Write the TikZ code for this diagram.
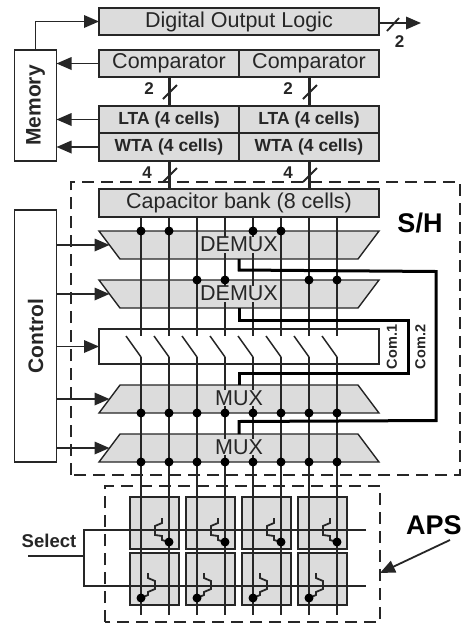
\documentclass[tikz,border=0pt]{standalone}
\usepackage{fontspec}
\setmainfont{Liberation Sans}
\usetikzlibrary{arrows.meta,calc}
\definecolor{ink}{HTML}{262626}
\definecolor{panel}{HTML}{DCDCDC}
\tikzset{
  x=1pt,y=-1pt,
  box/.style={draw=ink,line width=1.8pt,fill=panel,inner sep=0pt,outer sep=0pt,text=ink,font=\fontsize{21.5}{24}\selectfont},
  whitebox/.style={box,fill=white,font=\fontsize{21}{24}\selectfont\bfseries},
  cell/.style={box,minimum width=49pt,minimum height=52pt},
  bold/.style={box,font=\fontsize{17.5}{20}\selectfont\bfseries},
  hold/.style={inner sep=0pt,outer sep=0pt,minimum width=280pt,minimum height=28pt},
  trap/.style={draw=ink,line width=1.4pt,fill=panel,line join=miter},
  lab/.style={fill=panel,inner sep=0.5pt,text=ink,font=\fontsize{21.5}{24}\selectfont},
  conn/.style={draw=ink,line width=1.8pt},
  arr/.style={conn,-{Triangle[length=15pt,width=12.5pt]}},
  thick bus/.style={draw=ink,line width=3pt},
  sig/.style={draw=ink,line width=2pt},
  heavy/.style={draw=black,line width=3pt,line join=miter},
  dash box/.style={draw=ink,line width=1.4pt,dash pattern=on 12pt off 7pt},
  dot/.style={circle,fill=black,inner sep=0pt,minimum size=9pt},
  num/.style={inner sep=0pt,text=ink,font=\fontsize{17}{20}\selectfont\bfseries},
  big/.style={inner sep=0pt,text=black,font=\fontsize{27}{30}\selectfont\bfseries},
  com/.style={inner sep=0pt,text=ink,font=\fontsize{14.5}{18}\selectfont\bfseries},
}
\begin{document}
\begin{tikzpicture}
\useasboundingbox[fill=white] (0,0) rectangle (463,625);
% dashed regions
\path[dash box] (71,475) -- (71,182) -- (460,182) -- (460,475) -- cycle;
\path[dash box] (105,622) -- (105,486) -- (380,486) -- (380,622) -- cycle;
% boxes
\node[box,minimum width=280pt,minimum height=27pt] (dol) at (239,21.5) {Digital Output Logic};
\node[box,minimum width=140pt,minimum height=27pt] (cmpL) at (169,63.5) {Comparator};
\node[box,minimum width=140pt,minimum height=27pt] (cmpR) at (309,63.5) {Comparator};
\node[bold,minimum width=140pt,minimum height=27.5pt] (ltaL) at (169,119.5) {LTA (4 cells)};
\node[bold,minimum width=140pt,minimum height=27.5pt] (ltaR) at (309,119.5) {LTA (4 cells)};
\node[bold,minimum width=140pt,minimum height=27.5pt] (wtaL) at (169,147) {WTA (4 cells)};
\node[bold,minimum width=140pt,minimum height=27.5pt] (wtaR) at (309,147) {WTA (4 cells)};
\node[whitebox,minimum width=42pt,minimum height=111pt] (mem) at (35.5,105.5) {\rotatebox{90}{Memory}};
\node[whitebox,minimum width=42pt,minimum height=252pt] (ctl) at (35.5,336) {\rotatebox{90}{Control}};
\node[box,minimum width=280pt,minimum height=28pt] (bank) at (239,203) {Capacitor bank (8 cells)};
% demultiplexers (wide side up)
\foreach \n/\cy in {dm1/245,dm2/294} {
  \node[hold] (\n) at (239,\cy) {};
  \path[trap] (\n.north west) -- (\n.north east) -- ($(\n.south east)+(-21,0)$) -- ($(\n.south west)+(21,0)$) -- cycle;
  \coordinate (\n-in) at ($(\n.west)+(10.5,0)$);
}
\node[box,fill=white,line width=1.6pt,minimum width=280pt,minimum height=35pt] (sw) at (239,346.5) {};
% multiplexers (wide side down)
\foreach \n/\cy in {mx1/399,mx2/448} {
  \node[hold] (\n) at (239,\cy) {};
  \path[trap] (\n.south west) -- (\n.south east) -- ($(\n.north east)+(-21,0)$) -- ($(\n.north west)+(21,0)$) -- cycle;
  \coordinate (\n-in) at ($(\n.west)+(10.5,0)$);
}
% APS cells
\foreach \cx [count=\c] in {154.5,210.5,266.5,322.5} {
  \node[cell] (top\c) at (\cx,523) {};
  \node[cell] (bot\c) at (\cx,579) {};
}
% top connectors
\coordinate (outTip) at (421,23);
\path[arr] (dol.east |- outTip) -- (outTip);
\coordinate (outA) at (387,31); \coordinate (outB) at (399,18);
\path[conn] (outA) -- (outB);
\path[arr] (mem.north) |- (dol.west);
\path[arr] (cmpL.west) -- (mem.east |- cmpL.west);
\path[arr] (ltaL.west) -- (mem.east |- ltaL.west);
\path[arr] (wtaL.west) -- (mem.east |- wtaL.west);
\path[thick bus] (cmpL.south) -- (ltaL.north);
\path[thick bus] (cmpR.south) -- (ltaR.north);
\path[thick bus] (wtaL.south) -- (wtaL.south |- bank.north);
\path[thick bus] (wtaR.south) -- (wtaR.south |- bank.north);
\foreach \x in {169,309} {
  \coordinate (sa\x) at (\x-6,99); \coordinate (sb\x) at (\x+8,85);
  \coordinate (sc\x) at (\x-6,182); \coordinate (sd\x) at (\x+8,168);
  \path[conn] (sa\x) -- (sb\x);
  \path[conn] (sc\x) -- (sd\x);
}
\node[num] (n2a) at (149,89) {2};
\node[num] (n2b) at (288,89) {2};
\node[num] (n4a) at (147,173) {4};
\node[num] (n4b) at (288,173) {4};
\node[num] (n2c) at (399.5,42) {2};
% control arrows
\path[arr] (ctl.east |- dm1-in) -- (dm1-in);
\path[arr] (ctl.east |- dm2-in) -- (dm2-in);
\path[arr] (ctl.east |- sw.west) -- (sw.west);
\path[arr] (ctl.east |- mx1-in) -- (mx1-in);
\path[arr] (ctl.east |- mx2-in) -- (mx2-in);
% eight vertical lines with switches
\foreach \x [count=\i] in {141,169,197,225,253,281,309,337} {
  \coordinate (busA\i) at (\x,217);
  \coordinate (busB\i) at (\x,336);
  \coordinate (blade\i) at (\x-15,336);
  \coordinate (busC\i) at (\x,357);
  \coordinate (busD\i) at (\x,615);
  \path[sig] (busA\i) -- (busB\i);
  \path[conn,line width=1.5pt] (blade\i) -- (busC\i);
  \path[sig] (busC\i) -- (busD\i);
}
% heavy common lines
\coordinate (k1) at (239,270); \coordinate (k2) at (436,271.5);
\coordinate (k3) at (436,420.5); \coordinate (k4) at (239,421.5);
\path[heavy] (dm1.south) -- (k1) -- (k2) -- (k3) -- (k4) -- (mx2.north);
\coordinate (m1) at (239,320); \coordinate (m2) at (408,320);
\coordinate (m3) at (408,373); \coordinate (m4) at (239,373);
\path[heavy] (dm2.south) -- (m1) -- (m2) -- (m3) -- (m4) -- (mx1.north);
% labels over the lines
\node[lab] (tdm1) at (239,244.5) {DEMUX};
\node[lab] (tdm2) at (239,293.5) {DEMUX};
\node[lab] (tmx1) at (239,398) {MUX};
\node[lab] (tmx2) at (239,447) {MUX};
\node[com,rotate=90] (c1) at (392,347) {Com.1};
\node[com,rotate=90] (c2) at (420.5,347) {Com.2};
% dots
\foreach \x in {141,169,253,281} \node[dot] (da\x) at (\x,231) {};
\foreach \x in {197,225,309,337} \node[dot] (db\x) at (\x,280) {};
\foreach \x in {141,169,197,225,253,281,309,337} {
  \node[dot] (dc\x) at (\x,413) {};
  \node[dot] (dd\x) at (\x,462) {};
}
% select lines
\coordinate (selIn) at (28,556); \coordinate (selJ) at (84,556);
\coordinate (selT) at (84,530); \coordinate (selB) at (84,586);
\coordinate (selTe) at (366,530); \coordinate (selBe) at (366,586);
\path[conn] (selIn) -- (selJ);
\path[conn] (selTe) -- (selT) -- (selB) -- (selBe);
\node[inner sep=0pt,text=ink,font=\fontsize{18.5}{20}\selectfont\bfseries] (sel) at (49,541) {Select};
% pixel transistors
\foreach \o in {0,56,112,168} {
  \path[conn] (162+\o,518) -- (162+\o,523) -- (155+\o,526) -- (155+\o,535) -- (162+\o,536) -- (162+\o,540) -- (169+\o,542);
  \path[conn] (148+\o,573) -- (148+\o,578) -- (155+\o,581) -- (155+\o,589) -- (148+\o,592) -- (148+\o,595) -- (141+\o,598);
  \node[dot] (pa\o) at (169+\o,542) {};
  \node[dot] (pb\o) at (141+\o,598) {};
}
% titles
\node[big] (sh) at (420,223) {S/H};
\node[big] (aps) at (434,525) {APS};
\coordinate (apsA) at (450,540);
\coordinate (apsB) at (380,573);
\path[arr] (apsA) -- (apsB);
\end{tikzpicture}
\end{document}
